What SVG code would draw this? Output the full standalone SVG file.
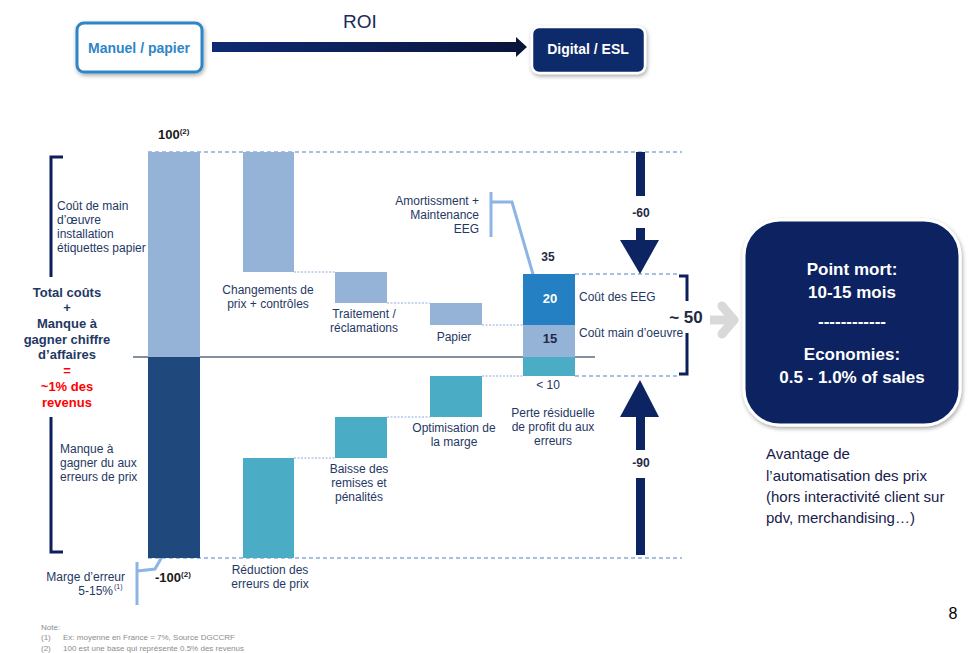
<svg xmlns="http://www.w3.org/2000/svg" width="972" height="653" viewBox="0 0 972 653">
<defs>
<style>
text{font-family:"Liberation Sans",Arial,sans-serif;}
.lbl{font-size:12px;fill:#1f3864;}
.lblc{font-size:12px;fill:#1f3864;text-anchor:middle;}
.bold{font-weight:bold;}
.dash{stroke:#4f81bd;stroke-width:1;stroke-dasharray:4,3;fill:none;}
.conn{stroke:#8eaadb;stroke-width:1;stroke-dasharray:2,1.5;fill:none;}
.lb{fill:#95b3d7;}
.teal{fill:#4bacc6;}
.navy{fill:#1f497d;}
.brk{stroke:#0c1f5c;stroke-width:3;fill:none;}
.call{stroke:#8db4e2;stroke-width:3;fill:none;}
.big{fill:#0c2461;}
</style>
<linearGradient id="ag" x1="0" x2="1" y1="0" y2="0">
<stop offset="0" stop-color="#0f2a72"/>
<stop offset="1" stop-color="#0a143a"/>
</linearGradient>
<filter id="sh" x="-10%" y="-10%" width="130%" height="130%">
<feDropShadow dx="1" dy="2" stdDeviation="2" flood-color="#000" flood-opacity="0.35"/>
</filter>
</defs>
<rect width="972" height="653" fill="#fff"/>

<!-- top flow -->
<g id="manuel">
<rect x="77" y="23" width="125" height="49" rx="7" fill="#fff" stroke="#2e86c8" stroke-width="3" filter="url(#sh)"/>
<text x="139" y="53" font-size="14" font-weight="bold" fill="#2e86c8" text-anchor="middle">Manuel / papier</text>
</g>
<g id="digital">
<rect x="532" y="27" width="113" height="46" rx="7" fill="#0d2a6b" stroke="#fff" stroke-width="2.5" filter="url(#sh)"/>
<text x="588" y="54" font-size="14" font-weight="bold" fill="#fff" text-anchor="middle">Digital / ESL</text>
</g>
<g id="roi-arrow">
<polygon points="212,42 516,42 516,37 527,47 516,57 516,52 212,52" fill="url(#ag)"/>
<text x="360" y="28" font-size="19" fill="#1a2a5a" text-anchor="middle">ROI</text>
</g>

<!-- connectors / guide lines -->
<g id="connectors">
<line class="dash" x1="148" y1="152" x2="682" y2="152"/>
<line class="dash" x1="148" y1="558" x2="682" y2="558"/>
<line class="dash" x1="575" y1="274" x2="680" y2="274"/>
<line class="dash" x1="575" y1="376" x2="680" y2="376"/>
<line class="conn" x1="294" y1="272" x2="335" y2="272"/>
<line class="conn" x1="387" y1="303" x2="430" y2="303"/>
<line class="conn" x1="482" y1="325" x2="523" y2="325"/>
<line class="conn" x1="294" y1="458" x2="335" y2="458"/>
<line class="conn" x1="387" y1="417" x2="430" y2="417"/>
<line class="conn" x1="482" y1="376" x2="523" y2="376"/>
<line x1="133" y1="357" x2="595" y2="357" stroke="#0c1f3c" stroke-width="1.2"/>
<!-- callouts -->
<polyline class="call" points="491,192 491,237"/>
<polyline class="call" points="491,202 512,202 537,288"/>
<polyline class="call" points="137,562 137,605"/>
<polyline class="call" points="137,571 155,569 171,541"/>
<!-- -60 arrow -->
<rect x="636" y="152" width="9" height="44" class="big"/>
<rect x="636" y="228" width="9" height="13" class="big"/>
<polygon points="620,240 659,240 640,274" class="big"/>
<!-- -90 arrow -->
<polygon points="620,417 659,417 640,380" class="big"/>
<rect x="636" y="416" width="9" height="34" class="big"/>
<rect x="636" y="478" width="9" height="77" class="big"/>
<!-- grey arrow -->
<line x1="710" y1="320" x2="728" y2="320" stroke="#d9d9d9" stroke-width="9"/>
<polyline points="722,306 734,320 722,334" stroke="#d9d9d9" stroke-width="9" fill="none" stroke-linecap="round" stroke-linejoin="round"/>
</g>

<!-- left brackets & texts -->
<g id="left-labels">
<polyline class="brk" points="63,157 51,157 51,277"/>
<polyline class="brk" points="51,417 51,552 63,552"/>
<text class="lbl" x="57" y="210">Coût de main</text>
<text class="lbl" x="57" y="224">d’œuvre</text>
<text class="lbl" x="57" y="238">installation</text>
<text class="lbl" x="57" y="252">étiquettes papier</text>
<g font-size="13" font-weight="bold" text-anchor="middle">
<text x="67" y="297" fill="#1f3864">Total coûts</text>
<text x="67" y="312" fill="#1f3864">+</text>
<text x="67" y="328" fill="#1f3864">Manque à</text>
<text x="67" y="344" fill="#1f3864">gagner chiffre</text>
<text x="67" y="359" fill="#1f3864">d’affaires</text>
<text x="67" y="375" fill="#ff0000">=</text>
<text x="67" y="391" fill="#ff0000">~1%  des</text>
<text x="67" y="407" fill="#ff0000">revenus</text>
</g>
<text class="lbl" x="60" y="453">Manque à</text>
<text class="lbl" x="60" y="467">gagner du aux</text>
<text class="lbl" x="60" y="481">erreurs de prix</text>
<text class="lbl" x="125" y="581" text-anchor="end">Marge d’erreur</text>
<text class="lbl" x="113" y="595" text-anchor="end">5-15%</text>
<text x="114" y="589" font-size="7" fill="#1f3864">(1)</text>
</g>

<!-- bars -->
<g id="bar-total">
<rect class="lb" x="148" y="152" width="52" height="205"/>
<rect class="navy" x="148" y="357" width="52" height="201"/>
<text x="158" y="139" font-size="13" font-weight="bold" fill="#1a1a1a">100<tspan font-size="8" dy="-5">(2)</tspan></text>
<text x="155" y="582" font-size="13" font-weight="bold" fill="#1a1a1a">-100<tspan font-size="8" dy="-5">(2)</tspan></text>
</g>
<g id="bar-changements">
<rect class="lb" x="243" y="152" width="51" height="120"/>
<text class="lblc" x="268" y="294">Changements de</text>
<text class="lblc" x="268" y="308">prix + contrôles</text>
</g>
<g id="bar-traitement">
<rect class="lb" x="335" y="272" width="52" height="31"/>
<text class="lblc" x="364" y="318">Traitement /</text>
<text class="lblc" x="364" y="332">réclamations</text>
</g>
<g id="bar-papier">
<rect class="lb" x="430" y="303" width="52" height="22"/>
<text class="lblc" x="454" y="341">Papier</text>
</g>
<g id="bar-esl">
<rect x="523" y="274" width="52" height="51" fill="#2480c3"/>
<rect class="lb" x="523" y="325" width="52" height="32"/>
<rect class="teal" x="523" y="357" width="52" height="19"/>
<text x="548" y="261" font-size="12" font-weight="bold" fill="#1f2a44" text-anchor="middle">35</text>
<text x="550" y="303" font-size="13" font-weight="bold" fill="#fff" text-anchor="middle">20</text>
<text x="550" y="343" font-size="13" font-weight="bold" fill="#1f2a44" text-anchor="middle">15</text>
<text class="lblc" x="548" y="389">&lt; 10</text>
<text class="lbl" x="579" y="301">Coût des EEG</text>
<text class="lbl" x="579" y="337">Coût main d’oeuvre</text>
<text class="lblc" x="553" y="417">Perte résiduelle</text>
<text class="lblc" x="553" y="431">de profit du aux</text>
<text class="lblc" x="553" y="445">erreurs</text>
<text class="lbl" x="479" y="205" text-anchor="end">Amortissment +</text>
<text class="lbl" x="479" y="219" text-anchor="end">Maintenance</text>
<text class="lbl" x="479" y="233" text-anchor="end">EEG</text>
</g>
<g id="bar-reduction">
<rect class="teal" x="243" y="458" width="51" height="100"/>
<text class="lblc" x="270" y="574">Réduction des</text>
<text class="lblc" x="270" y="588">erreurs de prix</text>
</g>
<g id="bar-baisse">
<rect class="teal" x="335" y="417" width="52" height="41"/>
<text class="lblc" x="359" y="473">Baisse des</text>
<text class="lblc" x="359" y="487">remises et</text>
<text class="lblc" x="359" y="501">pénalités</text>
</g>
<g id="bar-optimisation">
<rect class="teal" x="430" y="376" width="52" height="41"/>
<text class="lblc" x="454" y="432">Optimisation de</text>
<text class="lblc" x="454" y="446">la marge</text>
</g>

<g id="labels-arrows">
<text x="641" y="217" font-size="12" font-weight="bold" fill="#1f2a44" text-anchor="middle">-60</text>
<text x="641" y="467" font-size="12" font-weight="bold" fill="#1f2a44" text-anchor="middle">-90</text>
<polyline class="brk" points="679,276 687,276 687,301"/>
<polyline class="brk" points="687,333 687,374 679,374"/>
<text x="686" y="323" font-size="17" font-weight="bold" fill="#1f2a44" text-anchor="middle">~ 50</text>
</g>

<g id="result-box">
<rect x="744" y="220" width="216" height="205" rx="36" fill="#0c2461" stroke="#fff" stroke-width="3" filter="url(#sh)"/>
<g font-size="17" font-weight="bold" fill="#fff" text-anchor="middle">
<text x="852" y="275">Point mort:</text>
<text x="852" y="298">10-15 mois</text>
<text x="852" y="327">------------</text>
<text x="852" y="360">Economies:</text>
<text x="852" y="383">0.5 - 1.0% of sales</text>
</g>
</g>

<g id="avantage" font-size="15" fill="#17204a">
<text x="766" y="459">Avantage de</text>
<text x="766" y="481">l’automatisation des prix</text>
<text x="766" y="502">(hors interactivité client sur</text>
<text x="766" y="523">pdv, merchandising…)</text>
</g>

<g id="notes" font-size="8" fill="#8c8c8c">
<text x="41" y="630">Note:</text>
<text x="41" y="640">(1)</text>
<text x="63" y="640">Ex: moyenne en France = 7%, Source DGCCRF</text>
<text x="41" y="651">(2)</text>
<text x="63" y="651">100 est une base qui  représente 0.5% des revenus</text>
</g>
<text x="953" y="619" font-size="16" fill="#000" text-anchor="middle">8</text>
</svg>
